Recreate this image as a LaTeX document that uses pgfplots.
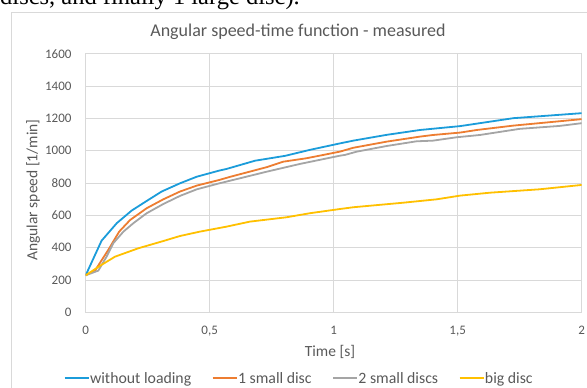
\documentclass[border=0pt]{standalone}
\usepackage{pgfplots}
\pgfplotsset{compat=1.18}
\usepackage{fontspec}
\setmainfont{Carlito}
\newfontfamily\timesfont{Liberation Serif}
\definecolor{cblue}{HTML}{1B9CDA}
\definecolor{corange}{HTML}{ED7D31}
\definecolor{cgray}{HTML}{A5A5A5}
\definecolor{cyellow}{HTML}{FFC000}
\definecolor{gridgray}{HTML}{D9D9D9}
\definecolor{txtgray}{HTML}{595959}
\begin{document}
\begin{tikzpicture}[x=1pt,y=1pt]
\useasboundingbox (0,0) rectangle (587,388);
\node[anchor=base west, inner sep=0pt, font=\timesfont\fontsize{24.5}{28}\selectfont] at (0,383) {discs, and finally 1 large disc).};
\draw[color=gridgray, line width=0.75pt] (11.7,-20) -- (11.7,375.3) -- (620,375.3);
\node[font=\fontsize{18}{20}\selectfont, text=txtgray] at (298,356) {Angular speed-time function - measured};
\begin{axis}[
  at={(85.7pt,75.7pt)}, anchor=south west, scale only axis,
  width=496pt, height=258.6pt,
  xmin=0, xmax=2, ymin=0, ymax=1600,
  xtick={0,0.5,1,1.5,2}, ytick={0,200,...,1600},
  grid=major, grid style={gridgray, line width=0.75pt},
  axis line style={gridgray, line width=0.75pt},
  major tick length=0pt,
  /pgf/number format/assume math mode=true,
  /pgf/number format/use comma,
  /pgf/number format/1000 sep={},
  x tick label style={anchor=north, inner sep=0pt, yshift=-13.6pt, font=\fontsize{13}{15}\selectfont, text=txtgray},
  y tick label style={anchor=east, inner sep=0pt, xshift=-14pt, font=\fontsize{13}{15}\selectfont, text=txtgray},
  scaled y ticks=false,
  xlabel={Time [s]}, ylabel={Angular speed [1/min]},
  every axis x label/.style={at={(axis description cs:0.4925,-0.1547)}, anchor=center, font=\fontsize{15.5}{17}\selectfont, text=txtgray},
  every axis y label/.style={at={(axis description cs:-0.106,0.473)}, rotate=90, anchor=center, font=\fontsize{15.5}{17}\selectfont, text=txtgray},
  legend columns=4,
  legend style={draw=none, fill=none, at={(axis description cs:0.429,-0.2553)}, anchor=center, font=\fontsize{15.8}{17}\selectfont, text=txtgray, inner sep=0pt, nodes={inner sep=0.5pt}, /tikz/every even column/.append style={column sep=20pt}},
  legend image code/.code={\draw[#1] (0pt,0pt) -- (24pt,0pt);},
  every axis plot/.append style={line width=1.8pt, line join=round},
]
\addplot[cblue] coordinates {(0,229) (0.064,443) (0.125,551) (0.185,629) (0.246,689) (0.306,747) (0.38,798) (0.448,839) (0.539,877) (0.568,887) (0.683,938) (0.804,968) (0.904,1005) (1.025,1045) (1.079,1062) (1.214,1098) (1.348,1128) (1.51,1152) (1.724,1201) (2,1232)};
\addplot[corange] coordinates {(0,229) (0.0375,258) (0.091,386) (0.135,499) (0.179,571) (0.246,644) (0.313,699) (0.38,747) (0.448,784) (0.539,819) (0.582,838) (0.73,898) (0.797,932) (0.89,953) (1.025,994) (1.079,1018) (1.214,1056) (1.348,1087) (1.40,1097) (1.51,1112) (1.577,1128) (1.724,1155) (2,1195)};
\addplot[cgray] coordinates {(0,229) (0.051,258) (0.084,344) (0.111,427) (0.152,499) (0.192,551) (0.246,613) (0.313,670) (0.38,720) (0.448,761) (0.539,798) (0.595,819) (0.73,870) (0.864,918) (1.025,969) (1.046,974) (1.093,994) (1.214,1029) (1.334,1058) (1.40,1062) (1.496,1083) (1.589,1097) (1.75,1135) (1.91,1153) (2,1170)};
\addplot[cyellow] coordinates {(0,229) (0.058,288) (0.118,344) (0.212,396) (0.313,441) (0.38,472) (0.46,499) (0.568,530) (0.662,561) (0.81,588) (0.904,613) (1.025,639) (1.079,650) (1.28,678) (1.415,699) (1.51,722) (1.63,740) (1.83,761) (2,788)};
\legend{without loading, 1 small disc, 2 small discs, big disc}
\end{axis}
\end{tikzpicture}
\end{document}
